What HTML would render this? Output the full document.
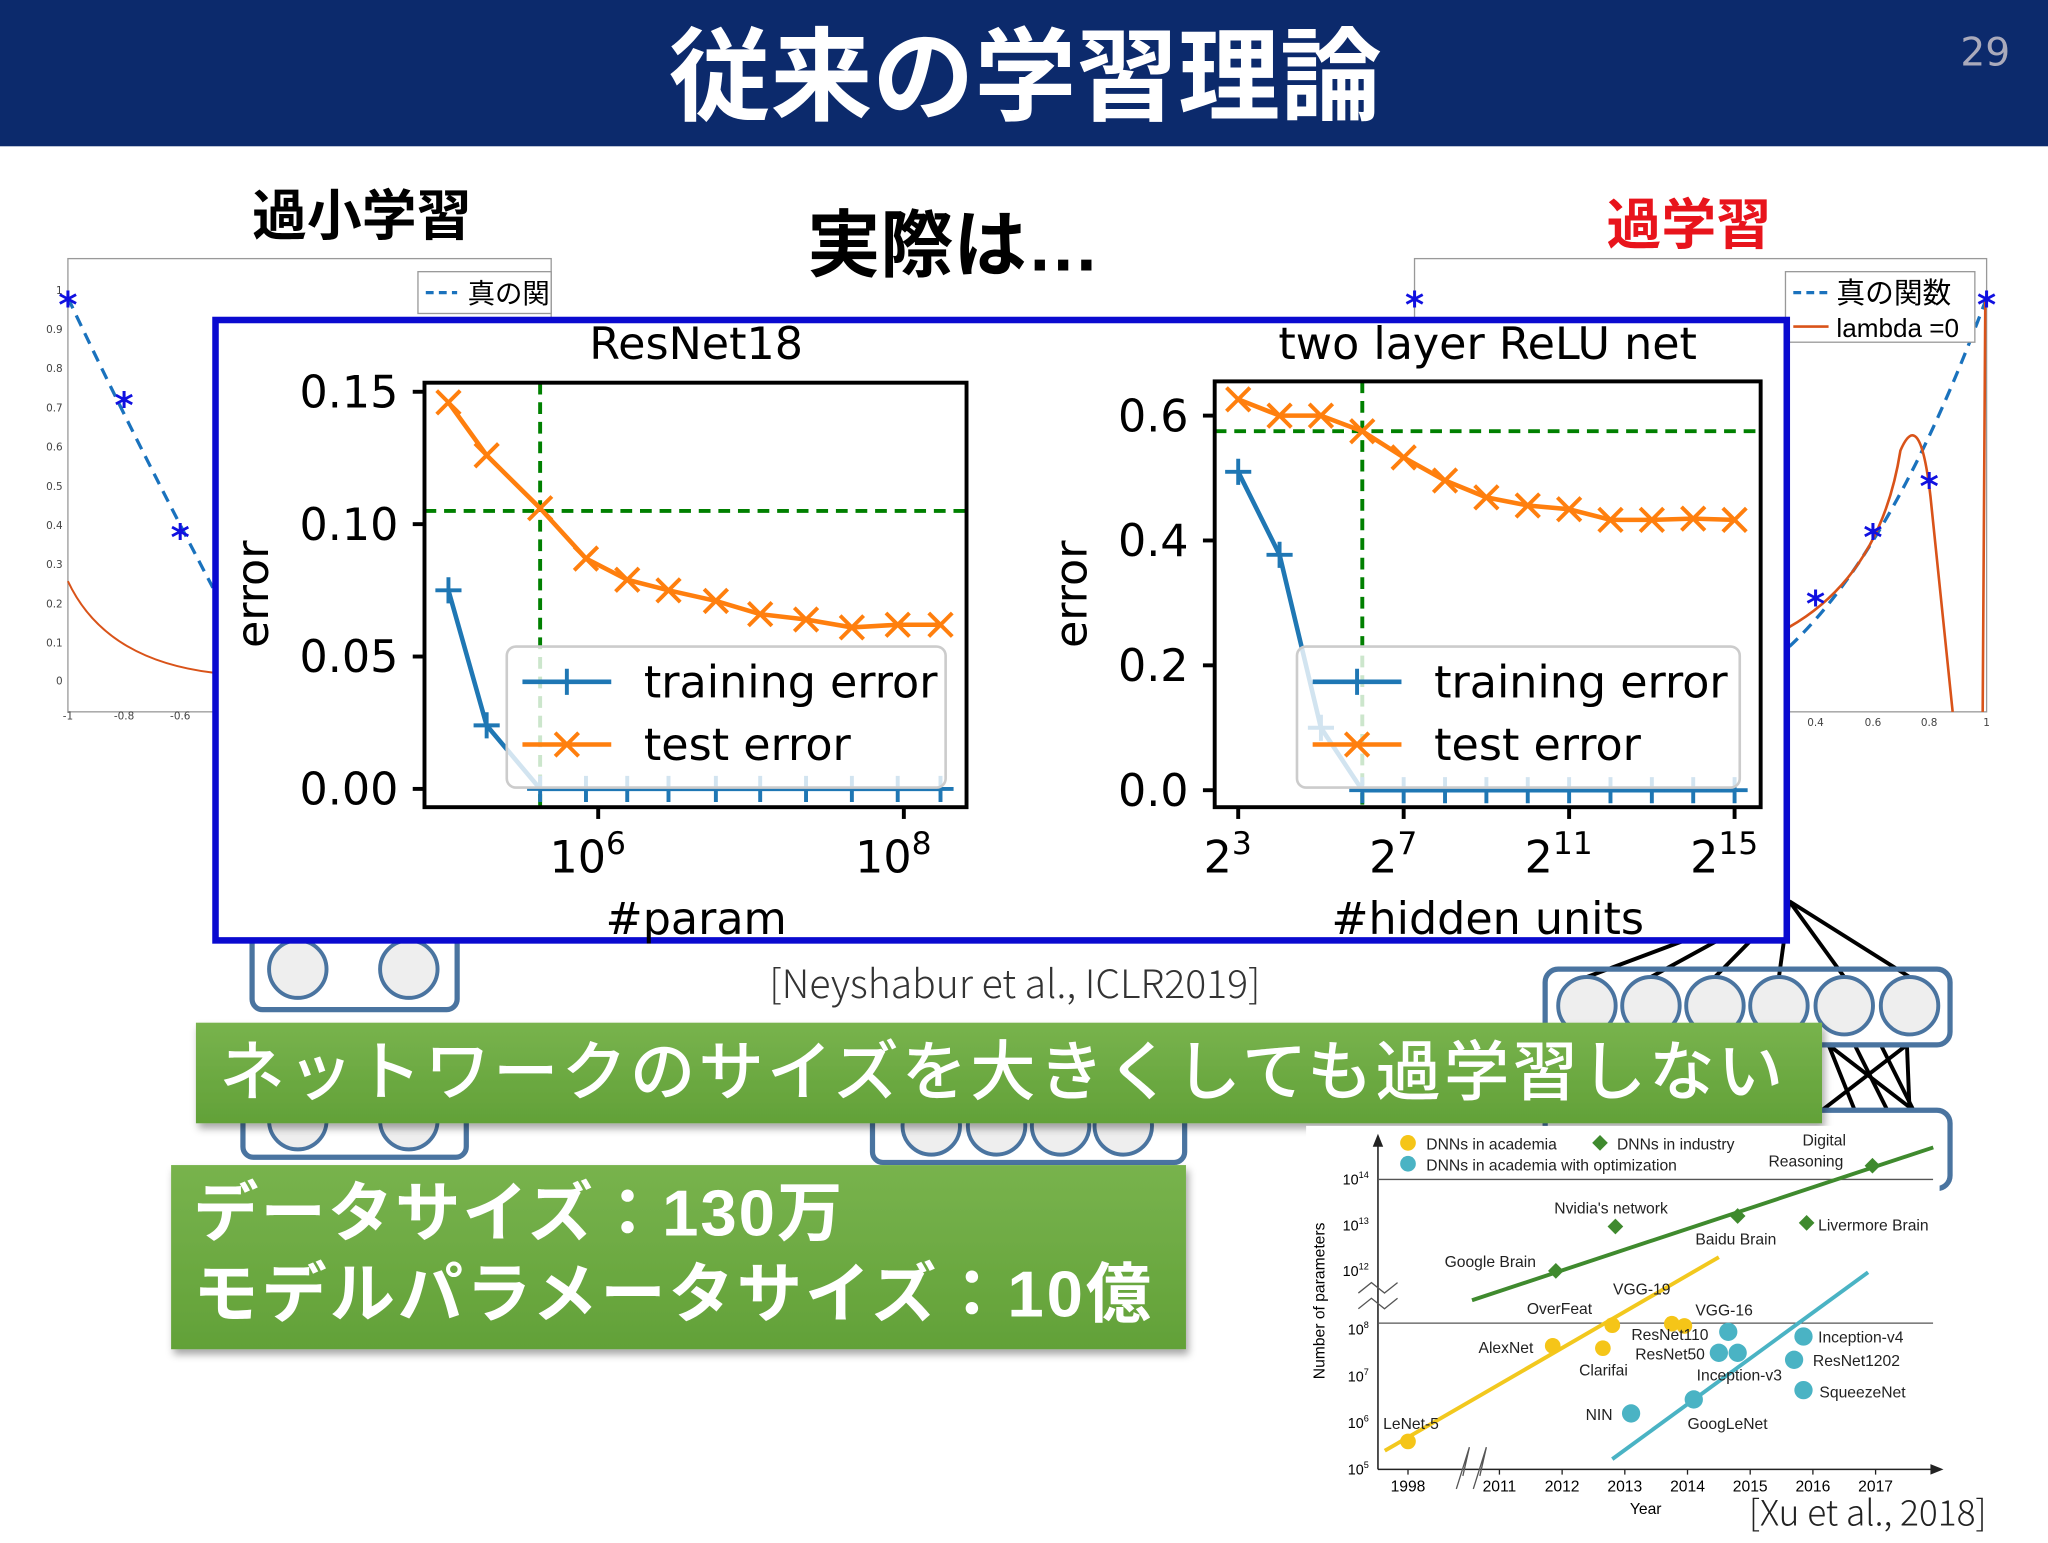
<!DOCTYPE html>
<html><head><meta charset="utf-8">
<style>
html,body{margin:0;padding:0;width:2048px;height:1536px;overflow:hidden;background:#fff;}
#stage{position:absolute;left:0;top:0;width:1568px;height:1176px;transform:scale(1.306122);transform-origin:0 0;}
svg text{font-family:"DejaVu Sans","Liberation Sans",sans-serif;}
</style></head>
<body>
<div id="stage">
<svg id="svg" width="1568" height="1176" viewBox="0 0 1568 1176" xmlns="http://www.w3.org/2000/svg">
  <rect x="0" y="0" width="1568" height="112" fill="#0c2a6c"/>
  <text x="785" y="86" text-anchor="middle" font-size="78" font-weight="bold" fill="#fff" style="font-family:'Liberation Sans','Noto Sans CJK JP',sans-serif">従来の学習理論</text>
  <text x="1520" y="50" text-anchor="middle" font-size="30" fill="#aab">29</text>

  <g>
    <rect x="52" y="198" width="370" height="347" fill="none" stroke="#999" stroke-width="1"/>
    <g font-size="8" fill="#444" text-anchor="end" style="font-family:'Liberation Sans',sans-serif">
      <text x="48" y="225">1</text><text x="48" y="255">0.9</text><text x="48" y="285">0.8</text><text x="48" y="315">0.7</text><text x="48" y="345">0.6</text><text x="48" y="375">0.5</text><text x="48" y="405">0.4</text><text x="48" y="435">0.3</text><text x="48" y="465">0.2</text><text x="48" y="495">0.1</text><text x="48" y="524">0</text>
    </g>
    <g font-size="8" fill="#444" text-anchor="middle" style="font-family:'Liberation Sans',sans-serif"><text x="52" y="551">-1</text><text x="95" y="551">-0.8</text><text x="138" y="551">-0.6</text></g>
    <path d="M52,228 Q100,330 163,450" fill="none" stroke="#1a72bd" stroke-width="2.5" stroke-dasharray="9,6"/>
    <path d="M52,445 Q80,505 163,515" fill="none" stroke="#d95319" stroke-width="1.5"/>
    <g fill="#1010e0" font-size="28" font-weight="bold" text-anchor="middle"><text x="52" y="243">*</text><text x="95" y="320">*</text><text x="138" y="421">*</text></g>
    <rect x="320" y="208" width="102" height="32" fill="#fff" stroke="#999"/>
    <line x1="326" y1="224" x2="350" y2="224" stroke="#1a72bd" stroke-width="2.5" stroke-dasharray="6,4"/>
    <text x="358" y="232" font-size="21" style="font-family:'Liberation Sans','Noto Sans CJK JP',sans-serif">真の関</text>
  </g>
  <g>
    <rect x="1083" y="198" width="438" height="347" fill="none" stroke="#999" stroke-width="1"/>
    <g font-size="8" fill="#444" text-anchor="middle" style="font-family:'Liberation Sans',sans-serif"><text x="1390" y="556">0.4</text><text x="1434" y="556">0.6</text><text x="1477" y="556">0.8</text><text x="1521" y="556">1</text></g>
    <path d="M1370,495 Q1450,420 1521,228" fill="none" stroke="#1a72bd" stroke-width="2.5" stroke-dasharray="9,6"/>
    <path d="M1370,480 Q1440,440 1455,345 Q1470,310 1478,380 L1495,545 M1518,545 L1520,230" fill="none" stroke="#d95319" stroke-width="2"/>
    <g fill="#1010e0" font-size="28" font-weight="bold" text-anchor="middle"><text x="1083" y="243">*</text><text x="1390" y="472">*</text><text x="1434" y="421">*</text><text x="1477" y="382">*</text><text x="1521" y="243">*</text></g>
    <rect x="1367" y="208" width="145" height="54" fill="#fff" stroke="#999"/>
    <line x1="1373" y1="224" x2="1400" y2="224" stroke="#1a72bd" stroke-width="2.5" stroke-dasharray="6,4"/>
    <text x="1406" y="232" font-size="22" style="font-family:'Liberation Sans','Noto Sans CJK JP',sans-serif">真の関数</text>
    <line x1="1373" y1="250" x2="1400" y2="250" stroke="#d95319" stroke-width="2"/>
    <text x="1406" y="258" font-size="20" style="font-family:'Liberation Sans',sans-serif">lambda =0</text>
  </g>

  <text x="277" y="180" text-anchor="middle" font-size="42" font-weight="bold" style="font-family:'Liberation Sans','Noto Sans CJK JP',sans-serif">過小学習</text>
  <text x="730" y="207" text-anchor="middle" font-size="56" font-weight="bold" style="font-family:'Liberation Sans','Noto Sans CJK JP',sans-serif">実際は…</text>
  <text x="1293" y="187" text-anchor="middle" font-size="42" font-weight="bold" fill="#e8141c" style="font-family:'Liberation Sans','Noto Sans CJK JP',sans-serif">過学習</text>

  <g stroke="#4a74a0" fill="#eee">
    <rect x="193" y="712" width="157" height="61" rx="8" fill="none" stroke-width="4"/>
    <circle cx="228" cy="742" r="22" stroke-width="3"/><circle cx="313" cy="742" r="22" stroke-width="3"/>
    <rect x="186" y="840" width="171" height="46" rx="8" fill="none" stroke-width="4"/>
    <circle cx="228" cy="858" r="22" stroke-width="3"/><circle cx="313" cy="858" r="22" stroke-width="3"/>
    <rect x="668" y="840" width="239" height="50" rx="8" fill="none" stroke-width="4"/>
    <circle cx="713" cy="862" r="22" stroke-width="3"/><circle cx="763" cy="862" r="22" stroke-width="3"/><circle cx="812" cy="862" r="22" stroke-width="3"/><circle cx="860" cy="862" r="22" stroke-width="3"/>
    <g stroke="#000" stroke-width="3" fill="none">
      <line x1="1370" y1="690" x2="1215" y2="748"/><line x1="1370" y1="690" x2="1264" y2="748"/><line x1="1370" y1="690" x2="1313" y2="748"/><line x1="1370" y1="690" x2="1362" y2="748"/><line x1="1370" y1="690" x2="1412" y2="748"/><line x1="1370" y1="690" x2="1462" y2="748"/>
      <line x1="1395" y1="850" x2="1460" y2="800"/><line x1="1420" y1="850" x2="1400" y2="800"/><line x1="1445" y1="850" x2="1420" y2="800"/><line x1="1465" y1="850" x2="1440" y2="800"/><line x1="1400" y1="800" x2="1465" y2="850"/><line x1="1460" y1="800" x2="1462" y2="850"/>
    </g>
    <rect x="1183" y="742" width="310" height="58" rx="10" fill="none" stroke-width="4"/>
    <circle cx="1215" cy="770" r="22" stroke-width="3"/><circle cx="1264" cy="770" r="22" stroke-width="3"/><circle cx="1313" cy="770" r="22" stroke-width="3"/><circle cx="1362" cy="770" r="22" stroke-width="3"/><circle cx="1412" cy="770" r="22" stroke-width="3"/><circle cx="1462" cy="770" r="22" stroke-width="3"/>
    <rect x="1183" y="850" width="310" height="60" rx="10" fill="none" stroke-width="4"/>
  </g>

  <rect x="165" y="245" width="1203" height="475" fill="#fff" stroke="#0a0ad0" stroke-width="5"/>
  <g id="charts"></g>

  <text x="777" y="764" text-anchor="middle" font-size="30" fill="#333" style="font-family:'Noto Sans CJK JP','Liberation Sans',sans-serif;font-weight:300">[Neyshabur  et al., ICLR2019]</text>

  <defs>
    <filter id="sh" x="-5%" y="-10%" width="110%" height="130%"><feDropShadow dx="2" dy="4" stdDeviation="3" flood-opacity="0.35"/></filter>
    <linearGradient id="gg" x1="0" y1="0" x2="0" y2="1"><stop offset="0" stop-color="#78b34d"/><stop offset="1" stop-color="#62a138"/></linearGradient>
  </defs>
  <rect x="150" y="783" width="1245" height="77" fill="url(#gg)" filter="url(#sh)"/>
  <text x="168" y="838" font-size="50" fill="#fff" letter-spacing="2.4" style="font-family:'Liberation Sans','Noto Sans CJK JP',sans-serif;font-weight:500">ネットワークのサイズを大きくしても過学習しない</text>
  <rect x="131" y="892" width="777" height="141" fill="url(#gg)" filter="url(#sh)"/>
  <text x="148" y="946" font-size="50" font-weight="bold" fill="#fff" letter-spacing="1.5" style="font-family:'Liberation Sans','Noto Sans CJK JP',sans-serif">データサイズ：130万</text>
  <text x="148" y="1008" font-size="50" font-weight="bold" fill="#fff" letter-spacing="2.2" style="font-family:'Liberation Sans','Noto Sans CJK JP',sans-serif">モデルパラメータサイズ：10億</text>

  <rect x="1000" y="862" width="485" height="314" fill="#fff"/>
  <g id="growth"></g>
  <text x="1430" y="1168" text-anchor="middle" font-size="27" fill="#222" style="font-family:'Noto Sans CJK JP','Liberation Sans',sans-serif;font-weight:300">[Xu et al., 2018]</text>
</svg>
</div>
<script>
const rnLogParams=[5.02,5.27,5.62,5.92,6.19,6.46,6.77,7.06,7.36,7.66,7.96,8.24];
const rnTestErr=[0.146,0.126,0.106,0.087,0.079,0.075,0.071,0.066,0.064,0.061,0.062,0.062];
const rnTrainErr=[0.075,0.024,0,0,0,0,0,0,0,0,0,0];
const rnYTicks=[0,0.05,0.10,0.15];
const rnYTickLabels=["0.00","0.05","0.10","0.15"];
const rnXTicks=[6,8];
const rnBest=[5.62,0.105];
const reluExps=[3,4,5,6,7,8,9,10,11,12,13,14,15];
const reluTestErr=[0.626,0.60,0.60,0.575,0.533,0.496,0.469,0.456,0.450,0.433,0.433,0.435,0.433];
const reluTrainErr=[0.51,0.377,0.10,0,0,0,0,0,0,0,0,0,0];
const reluYTicks=[0,0.2,0.4,0.6];
const reluYTickLabels=["0.0","0.2","0.4","0.6"];
const reluXTicks=[3,7,11,15];
const reluBest=[6,0.575];
const acadYears=[1998,2011.85,2012.8,2012.65,2013.75,2013.95];
const acadLogP=[5.6,7.65,8.3,7.6,8.4,8.25];
const optYears=[2013.1,2014.1,2014.65,2014.5,2014.8,2015.85,2015.7,2015.85];
const optLogP=[6.2,6.5,7.95,7.5,7.5,7.85,7.35,6.7];
const indYears=[2011.9,2012.85,2014.8,2015.9,2016.95];
const indLogP=[12,12.97,13.2,13.05,14.3];
const yearTicks=[1998,2011,2012,2013,2014,2015,2016,2017];
const logTicks=[5,6,7,8,12,13,14];
const trendInd=[[2007.1,10.0],[2017.92,14.7]];
const trendAcad=[[1994.7,5.4],[2014.5,12.3]];
const trendOpt=[[2012.8,5.22],[2016.88,11.9]];

const NS="http://www.w3.org/2000/svg";
function mk(tag,attrs,parent,txt){const e=document.createElementNS(NS,tag);for(const k in attrs)e.setAttribute(k,attrs[k]);if(txt!==undefined)e.textContent=txt;parent.appendChild(e);return e;}
const charts=document.getElementById('charts');

function drawChart(o){
  const g=mk('g',{},charts);
  
  
  const gl=mk('line',{x1:o.x(o.best[0]),y1:o.top,x2:o.x(o.best[0]),y2:o.bot,stroke:'#008000','stroke-width':3,'stroke-dasharray':'9,6'},g);
  
  
  const gh=mk('line',{x1:o.left,y1:o.y(o.best[1]),x2:o.right,y2:o.y(o.best[1]),stroke:'#008000','stroke-width':3,'stroke-dasharray':'9,6'},g);
  
  
  function series(xs,ys,color,marker,nm){
    const pts=xs.map((v,i)=>o.x(v)+','+o.y(ys[i])).join(' ');
    const pl=mk('polyline',{points:pts,fill:'none',stroke:color,'stroke-width':3.5},g);
    
    
    xs.forEach((v,i)=>{
      const cx=o.x(v),cy=o.y(ys[i]),s=9;
      const d=marker==='x'?`M${cx-s},${cy-s}L${cx+s},${cy+s}M${cx-s},${cy+s}L${cx+s},${cy-s}`:`M${cx-s-1},${cy}L${cx+s+1},${cy}M${cx},${cy-s-1}L${cx},${cy+s+1}`;
      const p=mk('path',{d:d,stroke:color,'stroke-width':3,fill:'none'},g);
      
      
    });
  }
  series(o.xs,o.train,'#1f77b4','+','training-error');
  series(o.xs,o.test,'#ff7f0e','x','test-error');
  const fr=mk('rect',{x:o.left,y:o.top,width:o.right-o.left,height:o.bot-o.top,fill:'none',stroke:'#000','stroke-width':3},g);
  
  
  o.yTicks.forEach((v,i)=>{
    mk('line',{x1:o.left-9,y1:o.y(v),x2:o.left,y2:o.y(v),stroke:'#000','stroke-width':3},g);
    const t=mk('text',{x:o.left-20,y:o.y(v)+12,'font-size':34,'text-anchor':'end'},g,o.yLabels[i]);
    
    
  });
  o.xTicks.forEach(v=>{
    mk('line',{x1:o.x(v),y1:o.bot,x2:o.x(v),y2:o.bot+9,stroke:'#000','stroke-width':3},g);
    const t=mk('text',{x:o.x(v)-8,y:o.bot+50,'font-size':34,'text-anchor':'middle'},g);
    
    
    mk('tspan',{},t,o.base);
    mk('tspan',{dy:-14,'font-size':24},t,String(v));
  });
  const lg=mk('g',{},g);
  
  
  mk('rect',{x:o.lx,y:495,width:o.lw,height:108,rx:7,fill:'#fff','fill-opacity':0.8,stroke:'#ccc','stroke-width':2},lg);
  mk('line',{x1:o.lx+12,y1:522,x2:o.lx+80,y2:522,stroke:'#1f77b4','stroke-width':3.5},lg);
  mk('path',{d:`M${o.lx+36},522L${o.lx+56},522M${o.lx+46},512L${o.lx+46},532`,stroke:'#1f77b4','stroke-width':3},lg);
  mk('line',{x1:o.lx+12,y1:570,x2:o.lx+80,y2:570,stroke:'#ff7f0e','stroke-width':3.5},lg);
  mk('path',{d:`M${o.lx+37},561L${o.lx+55},579M${o.lx+37},579L${o.lx+55},561`,stroke:'#ff7f0e','stroke-width':3},lg);
  const t1=mk('text',{x:o.lx+105,y:534,'font-size':34},lg,'training error');
  
  
  const t2=mk('text',{x:o.lx+105,y:582,'font-size':34},lg,'test error');
  
  
  const ti=mk('text',{x:o.tx,y:275,'font-size':34,'text-anchor':'middle'},g,o.title);
  
  
  const xl=mk('text',{x:o.tx,y:715,'font-size':34,'text-anchor':'middle'},g,o.xlabel);
  
  
  const yl=mk('text',{x:o.ylx,y:455,'font-size':34,'text-anchor':'middle',transform:`rotate(-90 ${o.ylx} 455)`},g,'error');
  
  
}
drawChart({name:'resnet18-chart',left:325,right:740,top:293,bot:618,x:l=>458+(l-6)*117,y:v=>604-v*2027,
  xs:rnLogParams,train:rnTrainErr,test:rnTestErr,yTicks:rnYTicks,yLabels:rnYTickLabels,xTicks:rnXTicks,base:'10',best:rnBest,
  lx:388,lw:336,title:'ResNet18',xlabel:'#param',tx:533,ylx:205});
drawChart({name:'two-layer-relu-chart',left:930,right:1348,top:292,bot:618,x:e=>948+(e-3)*31.67,y:v=>605-v*478,
  xs:reluExps,train:reluTrainErr,test:reluTestErr,yTicks:reluYTicks,yLabels:reluYTickLabels,xTicks:reluXTicks,base:'2',best:reluBest,
  lx:993,lw:339,title:'two layer ReLU net',xlabel:'#hidden units',tx:1139,ylx:832});

const G=document.getElementById('growth');


const gx=y=>y<2011?1078+(y-1998)*70/13:1148+(y-2011)*48;
const gy=v=>v<=8?1125-(v-5)*35.7:(v<=12?1018-(v-8)*11.25:973-(v-12)*35);
const F="font-family:'Liberation Sans',sans-serif";
mk('line',{x1:1055,y1:1125,x2:1055,y2:872,stroke:'#222','stroke-width':1.2},G);
mk('path',{d:'M1051,878L1055,868L1059,878Z',fill:'#222'},G);
mk('line',{x1:1055,y1:1125,x2:1482,y2:1125,stroke:'#222','stroke-width':1.2},G);
mk('path',{d:'M1478,1121L1488,1125L1478,1129Z',fill:'#222'},G);
mk('line',{x1:1055,y1:903,x2:1480,y2:903,stroke:'#555','stroke-width':1},G);
mk('line',{x1:1055,y1:1013,x2:1480,y2:1013,stroke:'#555','stroke-width':1},G);
mk('path',{d:'M1040,990L1050,982L1060,990L1070,982M1040,1002L1050,994L1060,1002L1070,994',fill:'none',stroke:'#555','stroke-width':1},G);
mk('path',{d:'M1115,1140L1125,1108L1120,1130M1128,1140L1138,1108L1133,1130',fill:'none',stroke:'#555','stroke-width':1},G);
logTicks.forEach(v=>{const t=mk('text',{x:1048,y:gy(v)+4,'font-size':11,'text-anchor':'end',style:F},G);
  
  
  mk('tspan',{},t,'10');mk('tspan',{dy:-5,'font-size':7},t,String(v));});
yearTicks.forEach(v=>{mk('line',{x1:gx(v),y1:1125,x2:gx(v),y2:1129,stroke:'#222'},G);
  const t=mk('text',{x:gx(v),y:1142,'font-size':12,'text-anchor':'middle',style:F},G,String(v));
  
  });
const yt=mk('text',{x:1260,y:1159,'font-size':12,'text-anchor':'middle',style:F},G,'Year');


const ytt=mk('text',{x:1014,y:996,'font-size':12,'text-anchor':'middle',style:F,transform:'rotate(-90 1014 996)'},G,'Number of parameters');


function trend(tr,c,nm){const l=mk('line',{x1:gx(tr[0][0]),y1:gy(tr[0][1]),x2:gx(tr[1][0]),y2:gy(tr[1][1]),stroke:c,'stroke-width':3},G);
  
  }
trend(trendInd,'#3f8a2e','industry-trend');
trend(trendAcad,'#f2c81e','academia-trend');
trend(trendOpt,'#4ab3c4','optimized-trend');
acadYears.forEach((y,i)=>{const c=mk('circle',{cx:gx(y),cy:gy(acadLogP[i]),r:6,fill:'#f5c518'},G);
  
  });
optYears.forEach((y,i)=>{const c=mk('circle',{cx:gx(y),cy:gy(optLogP[i]),r:7,fill:'#4ab3c4'},G);
  
  });
indYears.forEach((y,i)=>{const x=gx(y),yy=gy(indLogP[i]);const d=mk('path',{d:`M${x},${yy-6}L${x+6},${yy}L${x},${yy+6}L${x-6},${yy}Z`,fill:'#3f8a2e'},G);
  
  });
const labels=[["DNNs in academia",1092,880],["DNNs in industry",1238,880],["DNNs in academia with optimization",1092,896],["Digital",1380,877],["Reasoning",1354,893],
["Nvidia's network",1190,929],["Baidu Brain",1298,953],["Livermore Brain",1392,942],["Google Brain",1106,970],["VGG-19",1235,991],["OverFeat",1169,1006],["VGG-16",1298,1007],
["ResNet110",1249,1026],["Inception-v4",1392,1028],["AlexNet",1132,1036],["ResNet50",1252,1041],["ResNet1202",1388,1046],["Clarifai",1209,1053],["Inception-v3",1299,1057],
["SqueezeNet",1393,1070],["NIN",1214,1087],["LeNet-5",1059,1094],["GoogLeNet",1292,1094]];
labels.forEach(l=>{const t=mk('text',{x:l[1],y:l[2],'font-size':12,fill:'#222',style:F},G,l[0]);
  
  });
mk('circle',{cx:1078,cy:875,r:6,fill:'#f5c518'},G);
mk('circle',{cx:1078,cy:891,r:6,fill:'#4ab3c4'},G);
mk('path',{d:'M1225,869L1231,875L1225,881L1219,875Z',fill:'#3f8a2e'},G);
</script>
</body></html>
